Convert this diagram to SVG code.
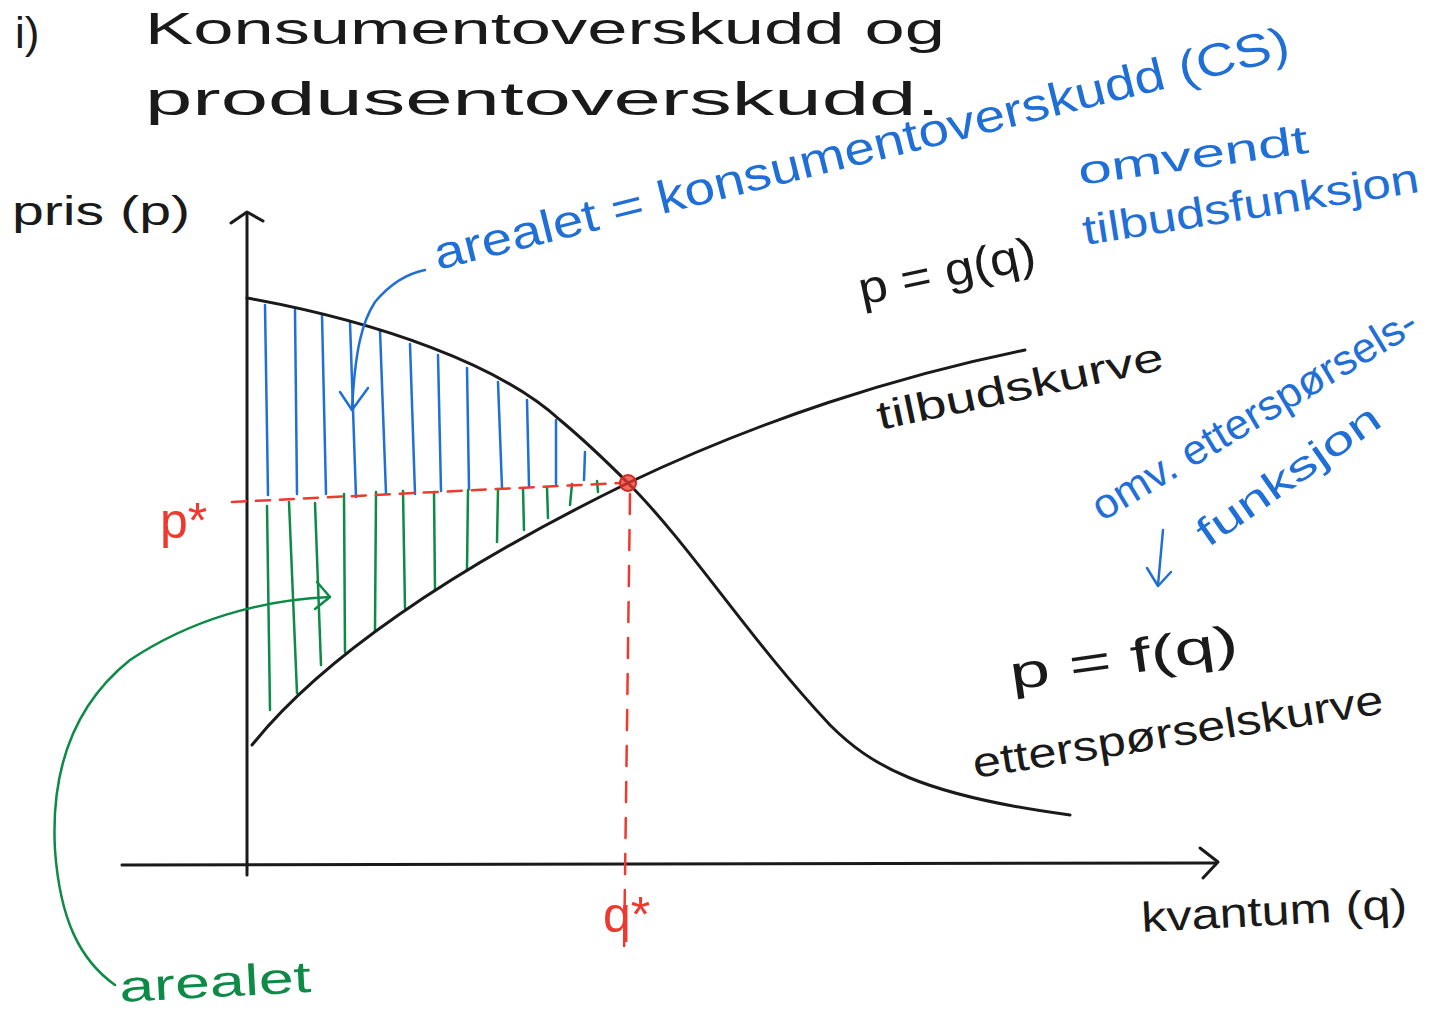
<svg xmlns="http://www.w3.org/2000/svg" width="1440" height="1011" viewBox="0 0 1440 1011">
<style>
  .ink{fill:none;stroke:#1a1a1a;stroke-width:3;stroke-linecap:round;stroke-linejoin:round}
  .blue{fill:none;stroke:#1f6fd6;stroke-width:2.5;stroke-linecap:round;stroke-linejoin:round}
  .green{fill:none;stroke:#0d8a45;stroke-width:2.5;stroke-linecap:round;stroke-linejoin:round}
  .red{fill:none;stroke:#ee3a2e;stroke-width:2.5;stroke-linecap:round}
  text{font-family:"Liberation Sans","DejaVu Sans",sans-serif}
  .tk{fill:#1a1a1a}
  .tb{fill:#1f6fd6}
  .tg{fill:#0d8a45}
  .tr{fill:#ee3a2e}
</style>
<rect width="1440" height="1011" fill="#ffffff"/>

<g id="title">
  <text class="tk" x="15" y="48" font-size="44">i)</text>
  <text class="tk" x="145" y="44" font-size="44" textLength="800" lengthAdjust="spacingAndGlyphs">Konsumentoverskudd og</text>
  <text class="tk" x="145" y="115" font-size="46" textLength="795" lengthAdjust="spacingAndGlyphs">produsentoverskudd.</text>
</g>

<g id="axes">
  <path class="ink" d="M247,875 L247,214"/>
  <path class="ink" d="M231,223 L247,212 L263,221"/>
  <path class="ink" d="M122,865 L1216,863"/>
  <path class="ink" d="M1200,848 L1218,862 L1203,878"/>
  <text class="tk" x="12" y="225" font-size="40" textLength="178" lengthAdjust="spacingAndGlyphs">pris (p)</text>
  <text class="tk" transform="translate(1142,932) rotate(-3)" font-size="42" textLength="266" lengthAdjust="spacingAndGlyphs">kvantum (q)</text>
</g>

<g id="cs-hatch" class="blue">
  <path d="M265,305 L268,495"/>
  <path d="M295,310 L297,494"/>
  <path d="M322,315 L326,494"/>
  <path d="M350,322 L356,497"/>
  <path d="M380,330 L386,494"/>
  <path d="M410,344 L415,494"/>
  <path d="M438,355 L441,491"/>
  <path d="M467,368 L469,489"/>
  <path d="M498,382 L502,488"/>
  <path d="M527,400 L529,486"/>
  <path d="M556,420 L556,484"/>
  <path d="M585,452 L584,480"/>
</g>

<g id="ps-hatch" class="green">
  <path d="M267,506 L270,710"/>
  <path d="M289,502 L297,693"/>
  <path d="M315,503 L321,665"/>
  <path d="M344,494 L345,652"/>
  <path d="M376,492 L375,630"/>
  <path d="M403,491 L405,608"/>
  <path d="M434,492 L435,590"/>
  <path d="M468,490 L467,570"/>
  <path d="M498,490 L497,542"/>
  <path d="M523,488 L524,530"/>
  <path d="M547,487 L548,518"/>
  <path d="M572,484 L570,505"/>
  <path d="M597,481 L598,492"/>
</g>

<g id="curves">
  <path id="demand" class="ink" d="M247,298 C380,322 500,365 560,420 C590,445 610,465 628,483 C690,545 750,640 830,725 C870,765 920,795 1070,815"/>
  <path id="supply" class="ink" d="M252,745 C320,660 450,570 628,483 C760,420 900,375 1025,350"/>
</g>

<g id="equilibrium">
  <path class="red" stroke-dasharray="14 10" d="M232,502 L620,483"/>
  <path class="red" stroke-dasharray="20 16" d="M630,494 L624,955"/>
  <circle cx="628" cy="483" r="8" fill="#ee3a2e" fill-opacity="0.75" stroke="#d02a20" stroke-width="2"/>
  <text class="tr" x="160" y="538" font-size="50">p*</text>
  <text class="tr" x="603" y="932" font-size="50">q*</text>
</g>

<g id="connectors">
  <path class="blue" d="M425,270 C400,275 385,290 375,302 C362,322 355,350 352,410"/>
  <path class="blue" d="M340,392 L352,410 L368,388"/>
  <path class="green" d="M115,985 C80,960 60,920 55,850 C50,760 80,700 130,660 C190,620 260,600 330,597"/>
  <path class="green" d="M317,582 L330,597 L315,609"/>
  <path class="blue" d="M1163,530 L1158,585"/>
  <path class="blue" d="M1147,568 L1158,586 L1171,572"/>
</g>

<g id="label-cs">
  <text class="tb" transform="translate(438,270) rotate(-14)" font-size="46" textLength="880" lengthAdjust="spacingAndGlyphs">arealet = konsumentoverskudd (CS)</text>
</g>

<g id="label-supply">
  <text class="tb" transform="translate(1080,185) rotate(-8)" font-size="40" textLength="232" lengthAdjust="spacingAndGlyphs">omvendt</text>
  <text class="tb" transform="translate(1085,245) rotate(-9)" font-size="42" textLength="340" lengthAdjust="spacingAndGlyphs">tilbudsfunksjon</text>
  <text class="tk" transform="translate(862,305) rotate(-12)" font-size="46" textLength="180" lengthAdjust="spacingAndGlyphs">p = g(q)</text>
  <text class="tk" transform="translate(880,430) rotate(-12)" font-size="40" textLength="292" lengthAdjust="spacingAndGlyphs">tilbudskurve</text>
</g>

<g id="label-demand">
  <text class="tb" transform="translate(1102,522) rotate(-31)" font-size="42" textLength="372" lengthAdjust="spacingAndGlyphs">omv. etterspørsels-</text>
  <text class="tb" transform="translate(1208,548) rotate(-35)" font-size="40" textLength="215" lengthAdjust="spacingAndGlyphs">funksjon</text>
  <text class="tk" transform="translate(1012,690) rotate(-8)" font-size="48" textLength="230" lengthAdjust="spacingAndGlyphs">p = f(q)</text>
  <text class="tk" transform="translate(975,778) rotate(-9)" font-size="42" textLength="415" lengthAdjust="spacingAndGlyphs">etterspørselskurve</text>
</g>

<g id="label-ps">
  <text class="tg" transform="translate(120,1002) rotate(-3)" font-size="44" textLength="192" lengthAdjust="spacingAndGlyphs">arealet</text>
</g>
</svg>
